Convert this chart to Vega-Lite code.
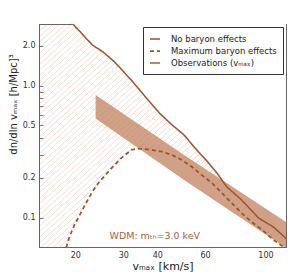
{
  "$schema": "https://vega.github.io/schema/vega-lite/v6.json",
  "width": 247,
  "height": 223,
  "autosize": {"type": "none"},
  "padding": {"left": 39, "top": 24, "right": 10, "bottom": 30},
  "background": "white",
  "view": {
    "stroke": "#666",
    "strokeWidth": 1,
    "fill": {
      "gradient": "linear", "x1": 0, "y1": 0, "x2": 1, "y2": 1,
      "stops": [
        {"offset": 0, "color": "#fff"}, {"offset": 0.002, "color": "#f2dacb"}, {"offset": 0.004, "color": "#fff"},
        {"offset": 0.0125, "color": "#fff"}, {"offset": 0.0145, "color": "#f2dacb"}, {"offset": 0.0165, "color": "#fff"},
        {"offset": 0.025, "color": "#fff"}, {"offset": 0.027, "color": "#f2dacb"}, {"offset": 0.029, "color": "#fff"},
        {"offset": 0.0375, "color": "#fff"}, {"offset": 0.0395, "color": "#f2dacb"}, {"offset": 0.0415, "color": "#fff"},
        {"offset": 0.05, "color": "#fff"}, {"offset": 0.052, "color": "#f2dacb"}, {"offset": 0.054, "color": "#fff"},
        {"offset": 0.0625, "color": "#fff"}, {"offset": 0.0645, "color": "#f2dacb"}, {"offset": 0.0665, "color": "#fff"},
        {"offset": 0.075, "color": "#fff"}, {"offset": 0.077, "color": "#f2dacb"}, {"offset": 0.079, "color": "#fff"},
        {"offset": 0.0875, "color": "#fff"}, {"offset": 0.0895, "color": "#f2dacb"}, {"offset": 0.0915, "color": "#fff"},
        {"offset": 0.1, "color": "#fff"}, {"offset": 0.102, "color": "#f2dacb"}, {"offset": 0.104, "color": "#fff"},
        {"offset": 0.1125, "color": "#fff"}, {"offset": 0.1145, "color": "#f2dacb"}, {"offset": 0.1165, "color": "#fff"},
        {"offset": 0.125, "color": "#fff"}, {"offset": 0.127, "color": "#f2dacb"}, {"offset": 0.129, "color": "#fff"},
        {"offset": 0.1375, "color": "#fff"}, {"offset": 0.1395, "color": "#f2dacb"}, {"offset": 0.1415, "color": "#fff"},
        {"offset": 0.15, "color": "#fff"}, {"offset": 0.152, "color": "#f2dacb"}, {"offset": 0.154, "color": "#fff"},
        {"offset": 0.1625, "color": "#fff"}, {"offset": 0.1645, "color": "#f2dacb"}, {"offset": 0.1665, "color": "#fff"},
        {"offset": 0.175, "color": "#fff"}, {"offset": 0.177, "color": "#f2dacb"}, {"offset": 0.179, "color": "#fff"},
        {"offset": 0.1875, "color": "#fff"}, {"offset": 0.1895, "color": "#f2dacb"}, {"offset": 0.1915, "color": "#fff"},
        {"offset": 0.2, "color": "#fff"}, {"offset": 0.202, "color": "#f2dacb"}, {"offset": 0.204, "color": "#fff"},
        {"offset": 0.2125, "color": "#fff"}, {"offset": 0.2145, "color": "#f2dacb"}, {"offset": 0.2165, "color": "#fff"},
        {"offset": 0.225, "color": "#fff"}, {"offset": 0.227, "color": "#f2dacb"}, {"offset": 0.229, "color": "#fff"},
        {"offset": 0.2375, "color": "#fff"}, {"offset": 0.2395, "color": "#f2dacb"}, {"offset": 0.2415, "color": "#fff"},
        {"offset": 0.25, "color": "#fff"}, {"offset": 0.252, "color": "#f2dacb"}, {"offset": 0.254, "color": "#fff"},
        {"offset": 0.2625, "color": "#fff"}, {"offset": 0.2645, "color": "#f2dacb"}, {"offset": 0.2665, "color": "#fff"},
        {"offset": 0.275, "color": "#fff"}, {"offset": 0.277, "color": "#f2dacb"}, {"offset": 0.279, "color": "#fff"},
        {"offset": 0.2875, "color": "#fff"}, {"offset": 0.2895, "color": "#f2dacb"}, {"offset": 0.2915, "color": "#fff"},
        {"offset": 0.3, "color": "#fff"}, {"offset": 0.302, "color": "#f2dacb"}, {"offset": 0.304, "color": "#fff"},
        {"offset": 0.3125, "color": "#fff"}, {"offset": 0.3145, "color": "#f2dacb"}, {"offset": 0.3165, "color": "#fff"},
        {"offset": 0.325, "color": "#fff"}, {"offset": 0.327, "color": "#f2dacb"}, {"offset": 0.329, "color": "#fff"},
        {"offset": 0.3375, "color": "#fff"}, {"offset": 0.3395, "color": "#f2dacb"}, {"offset": 0.3415, "color": "#fff"},
        {"offset": 0.35, "color": "#fff"}, {"offset": 0.352, "color": "#f2dacb"}, {"offset": 0.354, "color": "#fff"},
        {"offset": 0.3625, "color": "#fff"}, {"offset": 0.3645, "color": "#f2dacb"}, {"offset": 0.3665, "color": "#fff"},
        {"offset": 0.375, "color": "#fff"}, {"offset": 0.377, "color": "#f2dacb"}, {"offset": 0.379, "color": "#fff"},
        {"offset": 0.3875, "color": "#fff"}, {"offset": 0.3895, "color": "#f2dacb"}, {"offset": 0.3915, "color": "#fff"},
        {"offset": 0.4, "color": "#fff"}, {"offset": 0.402, "color": "#f2dacb"}, {"offset": 0.404, "color": "#fff"},
        {"offset": 0.4125, "color": "#fff"}, {"offset": 0.4145, "color": "#f2dacb"}, {"offset": 0.4165, "color": "#fff"},
        {"offset": 0.425, "color": "#fff"}, {"offset": 0.427, "color": "#f2dacb"}, {"offset": 0.429, "color": "#fff"},
        {"offset": 0.4375, "color": "#fff"}, {"offset": 0.4395, "color": "#f2dacb"}, {"offset": 0.4415, "color": "#fff"},
        {"offset": 0.45, "color": "#fff"}, {"offset": 0.452, "color": "#f2dacb"}, {"offset": 0.454, "color": "#fff"},
        {"offset": 0.4625, "color": "#fff"}, {"offset": 0.4645, "color": "#f2dacb"}, {"offset": 0.4665, "color": "#fff"},
        {"offset": 0.475, "color": "#fff"}, {"offset": 0.477, "color": "#f2dacb"}, {"offset": 0.479, "color": "#fff"},
        {"offset": 0.4875, "color": "#fff"}, {"offset": 0.4895, "color": "#f2dacb"}, {"offset": 0.4915, "color": "#fff"},
        {"offset": 0.5, "color": "#fff"}, {"offset": 0.502, "color": "#f2dacb"}, {"offset": 0.504, "color": "#fff"},
        {"offset": 0.5125, "color": "#fff"}, {"offset": 0.5145, "color": "#f2dacb"}, {"offset": 0.5165, "color": "#fff"},
        {"offset": 0.525, "color": "#fff"}, {"offset": 0.527, "color": "#f2dacb"}, {"offset": 0.529, "color": "#fff"},
        {"offset": 0.5375, "color": "#fff"}, {"offset": 0.5395, "color": "#f2dacb"}, {"offset": 0.5415, "color": "#fff"},
        {"offset": 0.55, "color": "#fff"}, {"offset": 0.552, "color": "#f2dacb"}, {"offset": 0.554, "color": "#fff"},
        {"offset": 0.5625, "color": "#fff"}, {"offset": 0.5645, "color": "#f2dacb"}, {"offset": 0.5665, "color": "#fff"},
        {"offset": 0.575, "color": "#fff"}, {"offset": 0.577, "color": "#f2dacb"}, {"offset": 0.579, "color": "#fff"},
        {"offset": 0.5875, "color": "#fff"}, {"offset": 0.5895, "color": "#f2dacb"}, {"offset": 0.5915, "color": "#fff"},
        {"offset": 0.6, "color": "#fff"}, {"offset": 0.602, "color": "#f2dacb"}, {"offset": 0.604, "color": "#fff"},
        {"offset": 0.6125, "color": "#fff"}, {"offset": 0.6145, "color": "#f2dacb"}, {"offset": 0.6165, "color": "#fff"},
        {"offset": 0.625, "color": "#fff"}, {"offset": 0.627, "color": "#f2dacb"}, {"offset": 0.629, "color": "#fff"},
        {"offset": 0.6375, "color": "#fff"}, {"offset": 0.6395, "color": "#f2dacb"}, {"offset": 0.6415, "color": "#fff"},
        {"offset": 0.65, "color": "#fff"}, {"offset": 0.652, "color": "#f2dacb"}, {"offset": 0.654, "color": "#fff"},
        {"offset": 0.6625, "color": "#fff"}, {"offset": 0.6645, "color": "#f2dacb"}, {"offset": 0.6665, "color": "#fff"},
        {"offset": 0.675, "color": "#fff"}, {"offset": 0.677, "color": "#f2dacb"}, {"offset": 0.679, "color": "#fff"},
        {"offset": 0.6875, "color": "#fff"}, {"offset": 0.6895, "color": "#f2dacb"}, {"offset": 0.6915, "color": "#fff"},
        {"offset": 0.7, "color": "#fff"}, {"offset": 0.702, "color": "#f2dacb"}, {"offset": 0.704, "color": "#fff"},
        {"offset": 0.7125, "color": "#fff"}, {"offset": 0.7145, "color": "#f2dacb"}, {"offset": 0.7165, "color": "#fff"},
        {"offset": 0.725, "color": "#fff"}, {"offset": 0.727, "color": "#f2dacb"}, {"offset": 0.729, "color": "#fff"},
        {"offset": 0.7375, "color": "#fff"}, {"offset": 0.7395, "color": "#f2dacb"}, {"offset": 0.7415, "color": "#fff"},
        {"offset": 0.75, "color": "#fff"}, {"offset": 0.752, "color": "#f2dacb"}, {"offset": 0.754, "color": "#fff"},
        {"offset": 0.7625, "color": "#fff"}, {"offset": 0.7645, "color": "#f2dacb"}, {"offset": 0.7665, "color": "#fff"},
        {"offset": 0.775, "color": "#fff"}, {"offset": 0.777, "color": "#f2dacb"}, {"offset": 0.779, "color": "#fff"},
        {"offset": 0.7875, "color": "#fff"}, {"offset": 0.7895, "color": "#f2dacb"}, {"offset": 0.7915, "color": "#fff"},
        {"offset": 0.8, "color": "#fff"}, {"offset": 0.802, "color": "#f2dacb"}, {"offset": 0.804, "color": "#fff"},
        {"offset": 0.8125, "color": "#fff"}, {"offset": 0.8145, "color": "#f2dacb"}, {"offset": 0.8165, "color": "#fff"},
        {"offset": 0.825, "color": "#fff"}, {"offset": 0.827, "color": "#f2dacb"}, {"offset": 0.829, "color": "#fff"},
        {"offset": 0.8375, "color": "#fff"}, {"offset": 0.8395, "color": "#f2dacb"}, {"offset": 0.8415, "color": "#fff"},
        {"offset": 0.85, "color": "#fff"}, {"offset": 0.852, "color": "#f2dacb"}, {"offset": 0.854, "color": "#fff"},
        {"offset": 0.8625, "color": "#fff"}, {"offset": 0.8645, "color": "#f2dacb"}, {"offset": 0.8665, "color": "#fff"},
        {"offset": 0.875, "color": "#fff"}, {"offset": 0.877, "color": "#f2dacb"}, {"offset": 0.879, "color": "#fff"},
        {"offset": 0.8875, "color": "#fff"}, {"offset": 0.8895, "color": "#f2dacb"}, {"offset": 0.8915, "color": "#fff"},
        {"offset": 0.9, "color": "#fff"}, {"offset": 0.902, "color": "#f2dacb"}, {"offset": 0.904, "color": "#fff"},
        {"offset": 0.9125, "color": "#fff"}, {"offset": 0.9145, "color": "#f2dacb"}, {"offset": 0.9165, "color": "#fff"},
        {"offset": 0.925, "color": "#fff"}, {"offset": 0.927, "color": "#f2dacb"}, {"offset": 0.929, "color": "#fff"},
        {"offset": 0.9375, "color": "#fff"}, {"offset": 0.9395, "color": "#f2dacb"}, {"offset": 0.9415, "color": "#fff"},
        {"offset": 0.95, "color": "#fff"}, {"offset": 0.952, "color": "#f2dacb"}, {"offset": 0.954, "color": "#fff"},
        {"offset": 0.9625, "color": "#fff"}, {"offset": 0.9645, "color": "#f2dacb"}, {"offset": 0.9665, "color": "#fff"},
        {"offset": 0.975, "color": "#fff"}, {"offset": 0.977, "color": "#f2dacb"}, {"offset": 0.979, "color": "#fff"},
        {"offset": 0.9875, "color": "#fff"}, {"offset": 0.9895, "color": "#f2dacb"}, {"offset": 0.9915, "color": "#fff"},
        {"offset": 1, "color": "#fff"}
      ]
    }
  },
  "datasets": {
    "curves": [
      {"series": "No baryon effects", "x": 14.5, "y": 5.5},
      {"series": "No baryon effects", "x": 19.6, "y": 2.93},
      {"series": "No baryon effects", "x": 23.1, "y": 2.03},
      {"series": "No baryon effects", "x": 25.2, "y": 1.81},
      {"series": "No baryon effects", "x": 27.9, "y": 1.51},
      {"series": "No baryon effects", "x": 32.4, "y": 1.08},
      {"series": "No baryon effects", "x": 36.5, "y": 0.806},
      {"series": "No baryon effects", "x": 40.7, "y": 0.621},
      {"series": "No baryon effects", "x": 45.0, "y": 0.512},
      {"series": "No baryon effects", "x": 50.2, "y": 0.423},
      {"series": "No baryon effects", "x": 55.1, "y": 0.337},
      {"series": "No baryon effects", "x": 60.9, "y": 0.269},
      {"series": "No baryon effects", "x": 66.3, "y": 0.218},
      {"series": "No baryon effects", "x": 72.1, "y": 0.171},
      {"series": "No baryon effects", "x": 81.2, "y": 0.138},
      {"series": "No baryon effects", "x": 94.4, "y": 0.0994},
      {"series": "No baryon effects", "x": 107.1, "y": 0.0849},
      {"series": "No baryon effects", "x": 117.5, "y": 0.0714},
      {"series": "No baryon effects", "x": 125, "y": 0.0635},
      {"series": "Maximum baryon effects", "x": 18.5, "y": 0.0594},
      {"series": "Maximum baryon effects", "x": 19.07, "y": 0.0726},
      {"series": "Maximum baryon effects", "x": 19.9, "y": 0.0895},
      {"series": "Maximum baryon effects", "x": 20.75, "y": 0.1047},
      {"series": "Maximum baryon effects", "x": 21.6, "y": 0.1226},
      {"series": "Maximum baryon effects", "x": 22.95, "y": 0.1538},
      {"series": "Maximum baryon effects", "x": 24.3, "y": 0.183},
      {"series": "Maximum baryon effects", "x": 25.6, "y": 0.2068},
      {"series": "Maximum baryon effects", "x": 27.4, "y": 0.2419},
      {"series": "Maximum baryon effects", "x": 29.5, "y": 0.283},
      {"series": "Maximum baryon effects", "x": 32.1, "y": 0.3255},
      {"series": "Maximum baryon effects", "x": 33.8, "y": 0.334},
      {"series": "Maximum baryon effects", "x": 37.4, "y": 0.328},
      {"series": "Maximum baryon effects", "x": 41.7, "y": 0.317},
      {"series": "Maximum baryon effects", "x": 45.4, "y": 0.298},
      {"series": "Maximum baryon effects", "x": 49.4, "y": 0.273},
      {"series": "Maximum baryon effects", "x": 53.7, "y": 0.242},
      {"series": "Maximum baryon effects", "x": 58.4, "y": 0.21},
      {"series": "Maximum baryon effects", "x": 63.6, "y": 0.183},
      {"series": "Maximum baryon effects", "x": 69.1, "y": 0.154},
      {"series": "Maximum baryon effects", "x": 75.2, "y": 0.129},
      {"series": "Maximum baryon effects", "x": 81.9, "y": 0.108},
      {"series": "Maximum baryon effects", "x": 89.0, "y": 0.0927},
      {"series": "Maximum baryon effects", "x": 98.5, "y": 0.0792},
      {"series": "Maximum baryon effects", "x": 107.1, "y": 0.0677},
      {"series": "Maximum baryon effects", "x": 116.5, "y": 0.06},
      {"series": "Maximum baryon effects", "x": 125, "y": 0.0542}
    ],
    "band": [
      {"x": 23.74, "hi": 0.849, "lo": 0.564},
      {"x": 50.2, "hi": 0.298, "lo": 0.193},
      {"x": 119, "hi": 0.0927, "lo": 0.0589}
    ]
  },
  "layer": [
    {
      "data": {"name": "curves"},
      "transform": [{"filter": "datum.series == 'No baryon effects'"}],
      "mark": {"type": "area", "color": "white", "opacity": 1, "clip": true},
      "encoding": {
        "x": {"field": "x", "type": "quantitative",
          "scale": {"type": "log", "domain": [14.7, 119], "nice": false},
          "axis": {"orient": "bottom", "values": [20, 30, 40, 50, 60, 70, 80, 90, 100],
            "labelExpr": "indexof([20,30,40,60,100], datum.value) >= 0 ? format(datum.value, 'd') : ''",
            "title": "vₘₐₓ [km/s]", "titlePadding": 1, "labelPadding": 8}},
        "y": {"field": "y", "type": "quantitative",
          "scale": {"type": "log", "domain": [0.06, 2.93], "nice": false},
          "axis": {"orient": "left", "values": [0.1, 0.2, 0.3, 0.4, 0.5, 0.6, 0.7, 0.8, 0.9, 1, 2],
            "labelExpr": "indexof([0.1,0.2,0.5,1,2], datum.value) >= 0 ? format(datum.value, '.1f') : ''",
            "title": "dn/dln vₘₐₓ [h/Mpc]³", "titleFontSize": 10, "titlePadding": 4, "titleY": 80, "labelPadding": 8}},
        "y2": {"datum": 1000}
      }
    },
    {
      "data": {"name": "curves"},
      "transform": [{"filter": "datum.series == 'Maximum baryon effects'"}],
      "mark": {"type": "area", "color": "white", "opacity": 1, "clip": true},
      "encoding": {
        "x": {"field": "x", "type": "quantitative",
          "scale": {"type": "log", "domain": [14.7, 119], "nice": false},
          "axis": {"orient": "top", "values": [20, 30, 40, 50, 60, 70, 80, 90, 100], "labels": false, "title": null}},
        "y": {"field": "y", "type": "quantitative",
          "scale": {"type": "log", "domain": [0.06, 2.93], "nice": false},
          "axis": {"orient": "right", "values": [0.1, 0.2, 0.3, 0.4, 0.5, 0.6, 0.7, 0.8, 0.9, 1, 2], "labels": false, "title": null}},
        "y2": {"datum": 0.0001}
      }
    },
    {
      "data": {"name": "band"},
      "mark": {"type": "area", "opacity": 0.75, "clip": true},
      "encoding": {
        "x": {"field": "x", "type": "quantitative", "scale": {"type": "log", "domain": [14.7, 119], "nice": false}, "axis": null},
        "y": {"field": "hi", "type": "quantitative", "scale": {"type": "log", "domain": [0.06, 2.93], "nice": false}, "axis": null},
        "y2": {"field": "lo"},
        "color": {"datum": "Observations (vₘₐₓ)",
          "scale": {"domain": ["No baryon effects", "Maximum baryon effects", "Observations (vₘₐₓ)"], "range": ["#a0522d", "#a0522d", "#c0825f"]},
          "legend": {"orient": "top-right", "offset": 3, "title": null, "padding": 6, "strokeColor": "#333", "fillColor": "white",
            "symbolSize": 100, "symbolType": "stroke", "symbolOpacity": 1, "labelFontSize": 8.5, "labelFont": "DejaVu Sans", "labelColor": "#222",
            "labelOffset": 10, "rowPadding": 1}}
      }
    },
    {
      "data": {"name": "curves"},
      "mark": {"type": "line", "clip": true},
      "encoding": {
        "x": {"field": "x", "type": "quantitative", "scale": {"type": "log", "domain": [14.7, 119], "nice": false}, "axis": null},
        "y": {"field": "y", "type": "quantitative", "scale": {"type": "log", "domain": [0.06, 2.93], "nice": false}, "axis": null},
        "color": {"field": "series", "type": "nominal",
          "scale": {"domain": ["No baryon effects", "Maximum baryon effects", "Observations (vₘₐₓ)"], "range": ["#a0522d", "#a0522d", "#c0825f"]},
          "legend": {"orient": "top-right", "offset": 3, "title": null, "padding": 6, "strokeColor": "#333", "fillColor": "white",
            "symbolSize": 100, "symbolType": "stroke", "symbolOpacity": 1, "labelFontSize": 8.5, "labelFont": "DejaVu Sans", "labelColor": "#222",
            "labelOffset": 10, "rowPadding": 1}},
        "strokeDash": {"field": "series", "type": "nominal",
          "scale": {"domain": ["No baryon effects", "Maximum baryon effects", "Observations (vₘₐₓ)"], "range": [[1, 0], [4, 3], [1, 0]]},
          "legend": {"orient": "top-right", "offset": 3, "title": null, "padding": 6, "strokeColor": "#333", "fillColor": "white",
            "symbolSize": 100, "symbolType": "stroke", "symbolOpacity": 1, "labelFontSize": 8.5, "labelFont": "DejaVu Sans", "labelColor": "#222",
            "labelOffset": 10, "rowPadding": 1}},
        "strokeWidth": {"field": "series", "type": "nominal",
          "scale": {"domain": ["No baryon effects", "Maximum baryon effects", "Observations (vₘₐₓ)"], "range": [1.5, 2, 6]},
          "legend": {"orient": "top-right", "offset": 3, "title": null, "padding": 6, "strokeColor": "#333", "fillColor": "white",
            "symbolSize": 100, "symbolType": "stroke", "symbolOpacity": 1, "labelFontSize": 8.5, "labelFont": "DejaVu Sans", "labelColor": "#222",
            "labelOffset": 10, "rowPadding": 1}}
      }
    },
    {
      "data": {"values": [{}]},
      "mark": {"type": "text", "align": "left", "baseline": "middle", "fontSize": 9.5, "font": "DejaVu Sans", "color": "#a9633a"},
      "encoding": {
        "x": {"datum": 26.7, "type": "quantitative", "scale": {"type": "log", "domain": [14.7, 119], "nice": false}, "axis": null},
        "y": {"datum": 0.0732, "type": "quantitative", "scale": {"type": "log", "domain": [0.06, 2.93], "nice": false}, "axis": null},
        "text": {"value": "WDM: mₜₕ=3.0 keV"}
      }
    }
  ],
  "resolve": {"axis": {"x": "independent", "y": "independent"}},
  "config": {
    "font": "DejaVu Sans",
    "axis": {
      "domain": true, "domainColor": "#666", "domainWidth": 1,
      "grid": false, "tickColor": "#555", "tickSize": -4, "tickWidth": 0.8,
      "labelFont": "DejaVu Sans", "labelFontSize": 8, "labelColor": "#333",
      "labelOverlap": false, "labelFlush": false,
      "titleFont": "DejaVu Sans", "titleFontSize": 11, "titleFontWeight": "normal", "titleColor": "#222",
      "zindex": 1
    }
  }
}
